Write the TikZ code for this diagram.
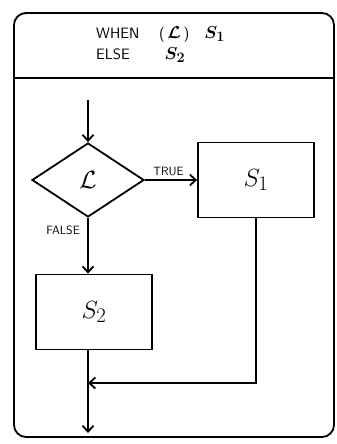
\documentclass[tikz,border=0pt]{standalone}
\usepackage{amssymb}
\usepackage{tikz}
\usetikzlibrary{shapes.geometric, positioning, arrows.meta}

\newcommand{\bigmath}[1]{{\fontsize{19}{21}\selectfont$#1$}}

\begin{document}
\begin{tikzpicture}[x=1pt, y=-1pt, line width=1.8pt, node distance=168pt, on grid,
                    >={Straight Barb[length=6pt,width=11pt]}]
                \tikzset{
                    block/.style={draw, rectangle, minimum width=116pt, minimum height=75pt, inner sep=0pt, font=\fontsize{28}{30}\selectfont},
                    test/.style={draw, diamond, minimum width=112pt, minimum height=74pt, inner sep=0pt, font=\fontsize{26}{28}\selectfont},
                    tag/.style={font=\sffamily\fontsize{12}{14}\selectfont}
                }
                \useasboundingbox (0,0) rectangle (337,444);

                % FRAME
                \draw[rounded corners=12pt] (14,13) rectangle (334,437);
                \draw (14,78) -- (334,78);
                \node[align=left, anchor=west, font=\sffamily\boldmath\fontsize{15}{21}\selectfont] (head) at (92,45)
                    {WHEN\quad\ (\,\bigmath{\mathcal{L}}\,)\quad\bigmath{S_1}\\ ELSE\qquad\ \bigmath{S_2}};

                % BLOCKS
                \node[test] (cond) at (88,180) {$\mathcal{L}$};
                \node[block] (s1) [right=of cond] {$S_1$};
                \node[block] (s2) [below=132pt of cond, xshift=6pt] {$S_2$};

                % ENDS
                \coordinate (entry) at (88,100);
                \coordinate (merge) at (88,383);
                \coordinate (exit) at (88,433);

                % FLOW
                \draw[->] (entry) -- (cond);
                \draw[->] (cond) -- node[tag, above, pos=0.45] {TRUE} (s1);
                \draw[->] (cond) -- node[tag, left=4pt, pos=0.22] {FALSE} (cond.south |- s2.north);
                \draw[->] (s1) |- (merge);
                \draw[->] (s2.south -| merge) -- (exit);

            \end{tikzpicture}
\end{document}
